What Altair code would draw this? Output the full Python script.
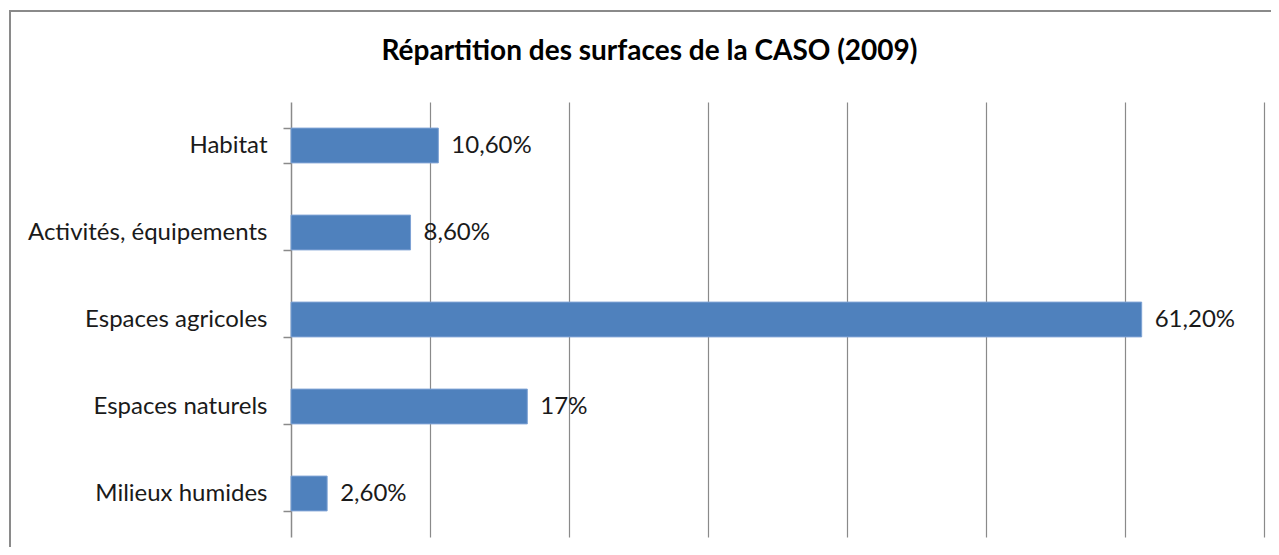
import altair as alt
import pandas as pd

categories = ["Habitat", "Activités, équipements", "Espaces agricoles", "Espaces naturels", "Milieux humides"]
values = [10.6, 8.6, 61.2, 17.0, 2.6]
labels = ["10,60%", "8,60%", "61,20%", "17%", "2,60%"]
grid_values = [10, 20, 30, 40, 50, 60, 70]

df = pd.DataFrame({"cat": categories, "val": values, "lab": labels})

FONT = "Lato"
GRAY = "#8a8a8a"
W, H = 973, 435

yenc = alt.Y("cat:N", sort=categories, title=None,
             scale=alt.Scale(paddingInner=0.6, paddingOuter=0.3),
             axis=alt.Axis(domain=True, domainColor=GRAY, domainWidth=1.5,
                           ticks=True, tickBand="extent", tickSize=8, tickColor=GRAY, tickWidth=1.5,
                           labelPadding=16, labelLimit=0, labelFont=FONT, labelFontSize=24,
                           labelColor="#1a1a1a", grid=False))
xenc = alt.X("val:Q", title=None, scale=alt.Scale(domain=[0, 70], nice=False),
             axis=alt.Axis(values=grid_values, grid=True, gridColor=GRAY, gridWidth=1.2,
                           labels=False, ticks=False, domain=False))

base = alt.Chart(df)

frame = alt.Chart(pd.DataFrame({"f": [0]})).mark_rect(
    fill=None, stroke=GRAY, strokeWidth=2
).encode(x=alt.value(-281), x2=alt.value(1000), y=alt.value(-91), y2=alt.value(600))

bars = base.mark_bar(color="#4F81BD", stroke="#7DA2D4", strokeWidth=1).encode(x=xenc, y=yenc)
text = base.mark_text(align="left", baseline="middle", dx=13, font=FONT, fontSize=24,
                      color="#1a1a1a").encode(x="val:Q", y=alt.Y("cat:N", sort=categories), text="lab:N")

chart = alt.layer(frame, bars, text).properties(
    width=W, height=H,
    title=alt.TitleParams("Répartition des surfaces de la CASO (2009)", font=FONT, fontSize=28,
                          fontWeight="bold", color="#000000", anchor="middle", dx=-128,
                          offset=38, dy=94),
    autosize=alt.AutoSizeParams(type="none"),
    padding={"left": 283, "top": 94, "right": 7, "bottom": 10},
).configure_view(stroke=None)

chart.save("out.html", embed_options={"renderer": "svg", "actions": False})
